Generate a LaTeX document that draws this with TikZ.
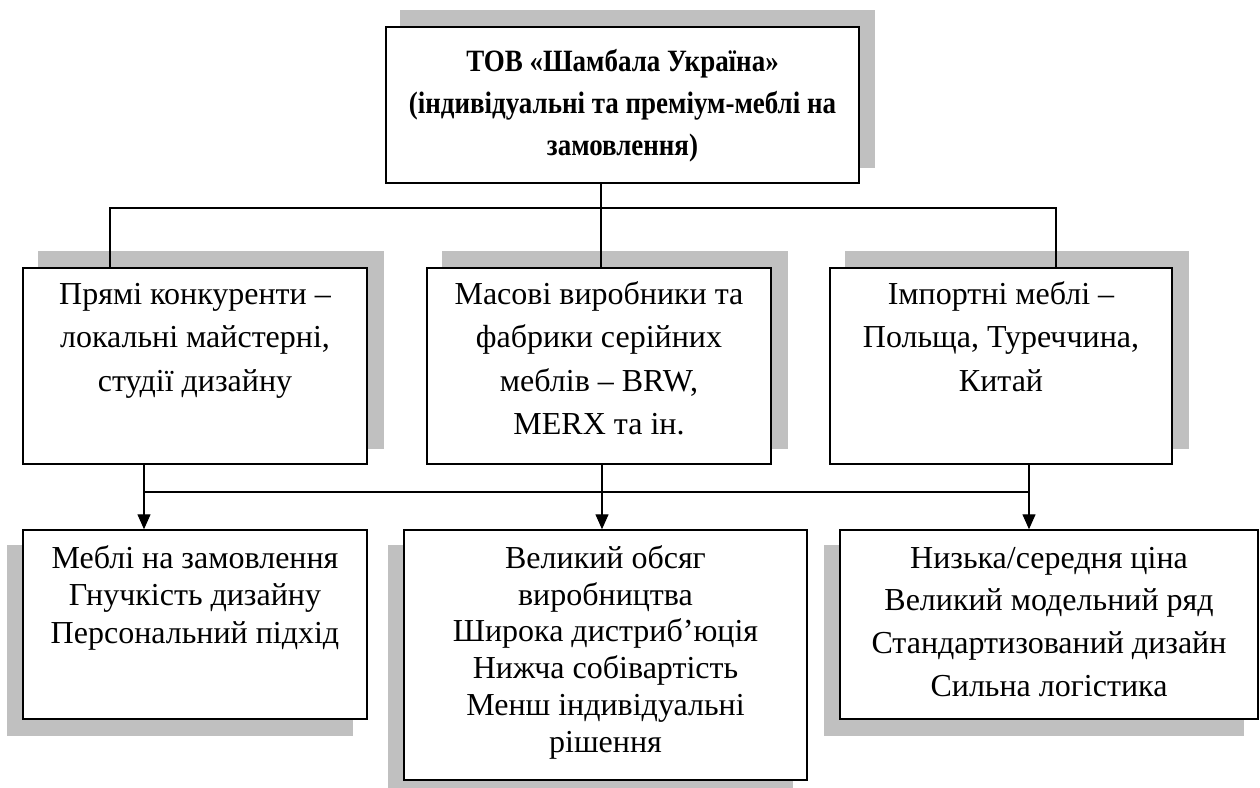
\documentclass[tikz,border=0pt]{standalone}
\usepackage{fontspec}
\setmainfont{Liberation Serif}
\newfontfamily\titlefont[FakeStretch=0.87]{Liberation Serif}
\usetikzlibrary{calc,arrows.meta}
\pgfdeclarelayer{bg}
\pgfsetlayers{bg,main}
\definecolor{shadowgray}{HTML}{C0C0C0}
\newcommand\mylines[1]{\begin{tabular}[t]{@{}c@{}}#1\end{tabular}}
\begin{document}
\begin{tikzpicture}[x=1pt,y=-1pt,
  box/.style={draw=black, line width=1.5pt, fill=white, inner sep=0pt},
  txt/.style={inner sep=0pt, anchor=base},
  conn/.style={line width=1.4pt},
  arr/.style={conn, -{Triangle[length=15pt,width=13pt]}},
  shade/.style={fill=shadowgray}]
\useasboundingbox (0,0) rectangle (1260,787);

% boxes
\node[box, minimum width=473pt, minimum height=156pt] (T) at (622.5,105) {};
\node[box, minimum width=344pt, minimum height=196pt] (M1) at (195,366) {};
\node[box, minimum width=344pt, minimum height=196pt] (M2) at (599,366) {};
\node[box, minimum width=342pt, minimum height=196pt] (M3) at (1001,366) {};
\node[box, minimum width=344pt, minimum height=189pt] (B1) at (195,624.5) {};
\node[box, minimum width=403pt, minimum height=250pt] (B2) at (605.5,655) {};
\node[box, minimum width=418pt, minimum height=189pt] (B3) at (1049,624.5) {};

% shadows
\begin{pgfonlayer}{bg}
\fill[shade] ($(T.south west)+(15,-16)$) rectangle ($(T.north east)+(15,-16)$);
\fill[shade] ($(M1.south west)+(16,-16)$) rectangle ($(M1.north east)+(16,-16)$);
\fill[shade] ($(M2.south west)+(16,-16)$) rectangle ($(M2.north east)+(16,-16)$);
\fill[shade] ($(M3.south west)+(16,-16)$) rectangle ($(M3.north east)+(16,-16)$);
\fill[shade] ($(B1.south west)+(-15,16)$) rectangle ($(B1.north east)+(-15,16)$);
\fill[shade] ($(B2.south west)+(-15,16)$) rectangle ($(B2.north east)+(-15,16)$);
\fill[shade] ($(B3.south west)+(-15,16)$) rectangle ($(B3.north east)+(-15,16)$);
\end{pgfonlayer}

% texts
\node[txt, font=\titlefont\bfseries\fontsize{31}{42}\selectfont] (tT) at ($(T.north)+(0,45)$)
  {\mylines{ТОВ «Шамбала Україна»\\(індивідуальні та преміум-меблі на\\замовлення)}};
\node[txt, font=\fontsize{32}{43.5}\selectfont] (tM1) at ($(M1.north)+(0,37)$)
  {\mylines{Прямі конкуренти –\\локальні майстерні,\\студії дизайну}};
\node[txt, font=\fontsize{32}{43.5}\selectfont] (tM2) at ($(M2.north)+(0,37)$)
  {\mylines{Масові виробники та\\фабрики серійних\\меблів – BRW,\\MERX та ін.}};
\node[txt, font=\fontsize{32}{43.5}\selectfont] (tM3) at ($(M3.north)+(0,37)$)
  {\mylines{Імпортні меблі –\\Польща, Туреччина,\\Китай}};
\node[txt, font=\fontsize{32}{37.5}\selectfont] (tB1) at ($(B1.north)+(0,39)$)
  {\mylines{Меблі на замовлення\\Гнучкість дизайну\\Персональний підхід}};
\node[txt, font=\fontsize{32}{36.8}\selectfont] (tB2) at ($(B2.north)+(0,39)$)
  {\mylines{Великий обсяг\\виробництва\\Широка дистриб’юція\\Нижча собівартість\\Менш індивідуальні\\рішення}};
\node[txt, font=\fontsize{32}{42.7}\selectfont] (tB3) at ($(B3.north)+(0,39)$)
  {\mylines{Низька/середня ціна\\Великий модельний ряд\\Стандартизований дизайн\\Сильна логістика}};

% junctions
\coordinate (u0) at (601,208);
\coordinate (u1) at (110,208);
\coordinate (u3) at (1056,208);
\coordinate (d1) at (144,492);
\coordinate (d2) at (602,492);
\coordinate (d3) at (1029,492);

% upper connectors
\draw[conn] (T.south -| u0) -- (M2.north -| u0);
\draw[conn] (M1.north -| u1) -- (u1) -- (u3) -- (M3.north -| u3);

% lower connectors
\draw[conn] (d1) -- (d3);
\draw[arr] (M1.south -| d1) -- (B1.north -| d1);
\draw[arr] (M2.south -| d2) -- (B2.north -| d2);
\draw[arr] (M3.south -| d3) -- (B3.north -| d3);
\end{tikzpicture}
\end{document}
